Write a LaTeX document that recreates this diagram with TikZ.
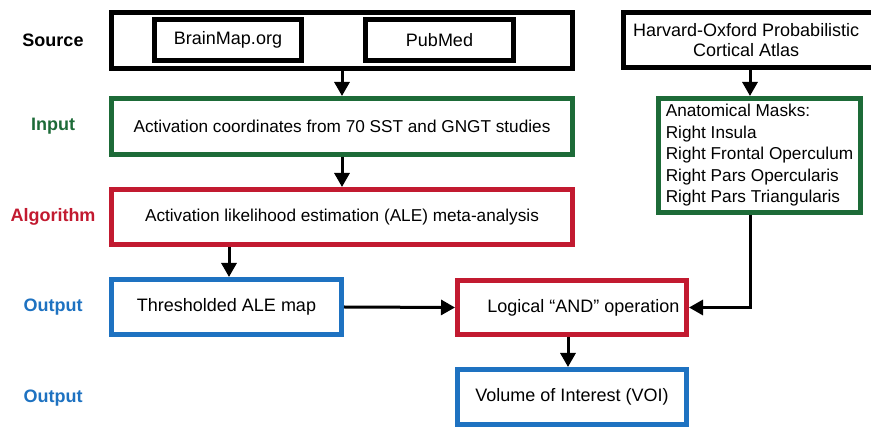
\documentclass[tikz,border=0pt]{standalone}
\usepackage{fontspec}
\setmainfont{Liberation Sans}
\usetikzlibrary{arrows.meta}
\definecolor{cgreen}{HTML}{1D6B38}
\definecolor{cred}{HTML}{C21A30}
\definecolor{cblue}{HTML}{1E72C1}
\tikzset{
  box/.style={draw, line width=5pt, minimum width=#1, inner sep=0pt, align=center, font=\fontsize{18}{21.5}\selectfont},
  small/.style={font=\fontsize{17.2}{21.5}\selectfont},
  lab/.style={font=\bfseries\fontsize{18}{20}\selectfont},
  conn/.style={line width=3pt, -{Triangle[length=14pt,width=15pt]}},
}
\begin{document}
\begin{tikzpicture}[x=1pt,y=-1pt]
\useasboundingbox (0,0) rectangle (871,427);
\clip (0,0) rectangle (871,427);
% left labels
\node[lab] (lsrc) at (53,40) {Source};
\node[lab, text=cgreen] (linp) at (53,126) {Input};
\node[lab, text=cred] (lalg) at (53,217) {Algorithm};
\node[lab, text=cblue] (lout1) at (53,307) {Output};
\node[lab, text=cblue] (lout2) at (53,398) {Output};
% boxes
\node[box=461pt, minimum height=56pt] (src) at (342,40.5) {};
\node[box=147pt, minimum height=41pt] (brain) at (228,40) {BrainMap.org};
\node[box=148pt, minimum height=41pt] (pub) at (439.5,40) {PubMed};
\node[box=461pt, minimum height=56pt, draw=cgreen, small] (inp) at (342,126.5) {Activation coordinates from 70 SST and GNGT studies};
\node[box=461pt, minimum height=55pt, draw=cred, small] (alg) at (342,217) {Activation likelihood estimation (ALE) meta-analysis};
\node[box=230pt, minimum height=55pt, draw=cblue] (thr) at (226.5,307) {Thresholded ALE map};
\node[box=229pt, minimum height=54pt, draw=cred] (and) at (572,307.5) {\hspace*{23pt}Logical “AND” operation};
\node[box=229pt, minimum height=55pt, draw=cblue] (voi) at (572,397) {Volume of Interest (VOI)};
\node[box=256.5pt, minimum height=55pt, font=\fontsize{18}{20.5}\selectfont] (hox) at (751.75,40) {\hspace*{-5.5pt}Harvard-Oxford Probabilistic\hspace*{5.5pt}\\\hspace*{-5.5pt}Cortical Atlas\hspace*{5.5pt}};
\node[box=202pt, minimum height=114pt, draw=cgreen, align=left, small] (mask) at (759.5,155.5) {Anatomical Masks:\\Right Insula\\Right Frontal Operculum\\Right Pars Opercularis\\Right Pars Triangularis};
% connectors
\draw[conn] (src.south) -- (inp.north);
\draw[conn] (inp.south) -- (alg.north);
\draw[conn] (alg.south -| 229,0) -- (thr.north -| 229,0);
\draw[conn] (thr.east) -- (and.west);
\draw[conn] (hox.south -| 750,0) -- (mask.north -| 750,0);
\draw[conn] (mask.south -| 750,0) |- (and.east);
\draw[conn] (and.south -| 568,0) -- (voi.north -| 568,0);
\end{tikzpicture}
\end{document}
